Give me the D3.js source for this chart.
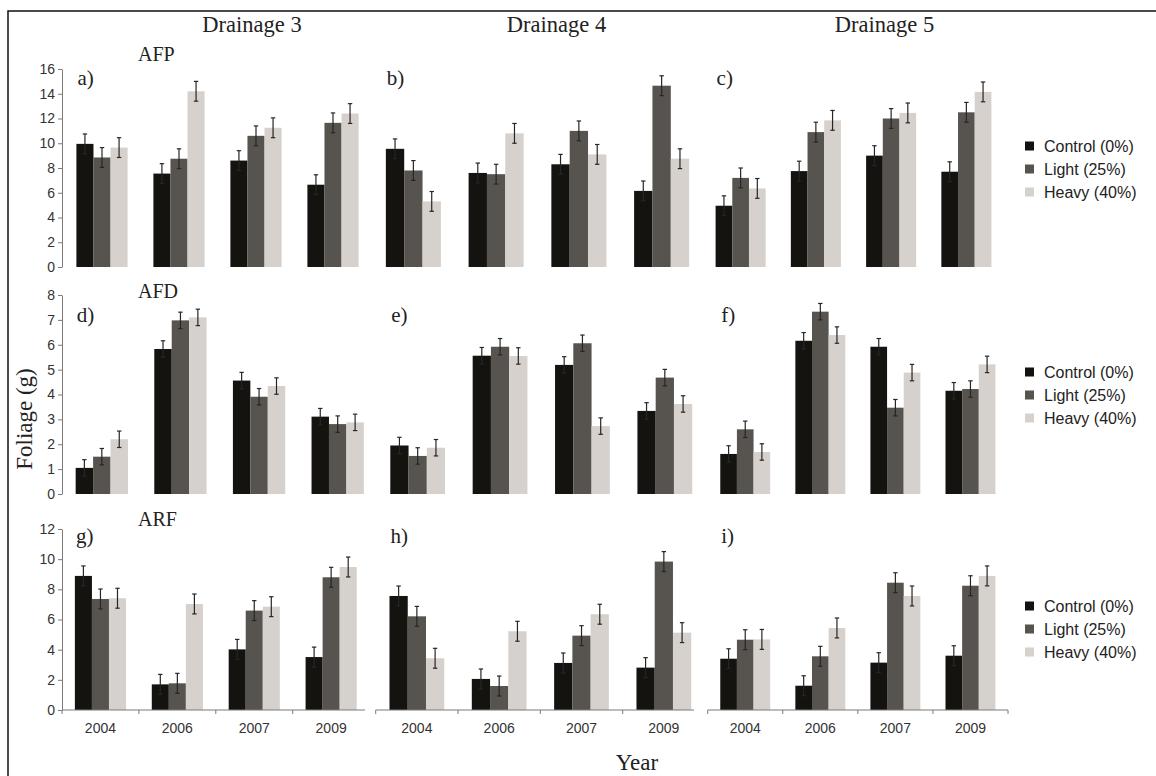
<!DOCTYPE html>
<meta charset="utf-8">
<title>Foliage by drainage and thinning</title>
<style>
  body { margin: 0; background: #fff; overflow: hidden; }
  text { fill: #222; }
  .serif { font-family: "Liberation Serif", "Times New Roman", serif; }
  .sans { font-family: "Liberation Sans", Arial, sans-serif; }
</style>
<body>
<script src="https://cdn.jsdelivr.net/npm/d3@7"></script>
<script>
// categories
const years = ["2004", "2006", "2007", "2009"];
const treatments = ["Control (0%)", "Light (25%)", "Heavy (40%)"];
const drainages = ["Drainage 3", "Drainage 4", "Drainage 5"];
const responses = ["AFP", "AFD", "ARF"];
const panelLabels = [["a)", "b)", "c)"], ["d)", "e)", "f)"], ["g)", "h)", "i)"]];
const yMaxes = [16, 8, 12];
const yTickSteps = [2, 1, 2];
const errors = [0.8, 0.33, 0.66];   // error bar half-height per response

// values per year: [control, light, heavy]
const afpD3 = [[9.95, 8.85, 9.65], [7.55, 8.75, 14.2], [8.6, 10.6, 11.25], [6.65, 11.65, 12.4]];
const afpD4 = [[9.55, 7.8, 5.3], [7.6, 7.5, 10.8], [8.3, 11.0, 9.1], [6.15, 14.65, 8.75]];
const afpD5 = [[4.95, 7.2, 6.35], [7.75, 10.9, 11.85], [9.0, 12.0, 12.45], [7.7, 12.5, 14.15]];
const afdD3 = [[1.05, 1.5, 2.2], [5.83, 6.98, 7.1], [4.56, 3.91, 4.34], [3.11, 2.81, 2.88]];
const afdD4 = [[1.95, 1.53, 1.86], [5.56, 5.92, 5.55], [5.19, 6.06, 2.73], [3.34, 4.68, 3.62]];
const afdD5 = [[1.61, 2.6, 1.69], [6.16, 7.33, 6.39], [5.92, 3.47, 4.88], [4.15, 4.22, 5.21]];
const arfD3 = [[8.89, 7.36, 7.41], [1.7, 1.77, 7.03], [4.02, 6.59, 6.85], [3.51, 8.8, 9.48]];
const arfD4 = [[7.56, 6.21, 3.43], [2.06, 1.59, 5.22], [3.12, 4.93, 6.35], [2.81, 9.84, 5.13]];
const arfD5 = [[3.4, 4.66, 4.68], [1.61, 3.56, 5.44], [3.14, 8.44, 7.56], [3.6, 8.24, 8.89]];

const grid = [[afpD3, afpD4, afpD5], [afdD3, afdD4, afdD5], [arfD3, arfD4, arfD5]];

const colors = ["#141310", "#57544f", "#d6d1cc"];

// layout
const width = 1156, height = 776;
const rowY = [[267, 69], [494, 295], [710, 529]];
const xRanges = [
  [[63.5, 371.5], [372, 703], [703, 1004]],
  [[62.5, 377], [376.5, 706], [707.7, 1008]],
  [[62, 369.6], [375.7, 705], [707.7, 1008]]
];
const axisEnds = [365, 694, 1008];
const labelBase = [85, 322, 543];
const respBase = [61, 298, 526];
const legendTop = [146, 372, 606];
const pad = 0.335;

const svg = d3.select("body").append("svg")
    .attr("width", width)
    .attr("height", height)
    .style("display", "block");

// frame: only the left and top edges show in the crop
svg.append("path")
    .attr("d", d3.line()([[8, height + 5], [8, 11], [width + 5, 11]]))
    .attr("fill", "none")
    .attr("stroke", "#111")
    .attr("stroke-width", 1.5);

// column titles
drainages.forEach((d, c) => {
    const r = xRanges[0][c];
    svg.append("text").attr("class", "serif")
        .attr("x", c == 0 ? 252 : (r[0] + r[1]) / 2 + (c == 1 ? 19 : 31))
        .attr("y", 32)
        .attr("text-anchor", "middle")
        .style("font-size", "22.5px")
        .text(d);
});

grid.forEach((rowData, r) => {
    const y = d3.scaleLinear().domain([0, yMaxes[r]]).range(rowY[r]);

    // y axis on the first column only
    svg.append("g")
        .attr("transform", "translate(62,0)")
        .call(d3.axisLeft(y)
            .tickValues(d3.range(0, yMaxes[r] + 0.01, yTickSteps[r]))
            .tickSize(4).tickSizeOuter(0))
        .call(g => g.selectAll("path, line").attr("stroke", "#7a7a7a"))
        .call(g => g.selectAll("text")
            .attr("class", "sans")
            .attr("x", -7)
            .style("font-size", "14px")
            .style("fill", "#333"));

    svg.append("text").attr("class", "serif")
        .attr("x", 138).attr("y", respBase[r])
        .style("font-size", "20px")
        .text(responses[r]);

    rowData.forEach((vals, c) => {
        const x = d3.scaleBand().domain(years).range(xRanges[r][c])
            .paddingInner(pad).paddingOuter(pad / 2);
        const xi = d3.scaleBand().domain(d3.range(3)).range([0, x.bandwidth()]);

        const g = svg.append("g");
        const groups = g.selectAll("g.year")
            .data(vals)
            .join("g")
            .attr("transform", (d, i) => `translate(${x(years[i])},0)`);

        groups.selectAll("rect")
            .data(d => d)
            .join("rect")
            .attr("x", (d, k) => xi(k))
            .attr("width", xi.bandwidth())
            .attr("y", d => y(d))
            .attr("height", d => y(0) - y(d))
            .attr("fill", (d, k) => colors[k]);

        const err = errors[r];
        const eb = groups.selectAll("g.err")
            .data(d => d)
            .join("g")
            .attr("transform", (d, k) => `translate(${xi(k) + xi.bandwidth() / 2},0)`)
            .attr("stroke", "#262626")
            .attr("stroke-width", 1.2);
        eb.append("line")
            .attr("y1", d => y(d - err)).attr("y2", d => y(d + err));
        eb.append("line")
            .attr("x1", -2.2).attr("x2", 2.2)
            .attr("y1", d => y(d + err)).attr("y2", d => y(d + err));
        eb.append("line")
            .attr("x1", -2.2).attr("x2", 2.2)
            .attr("y1", d => y(d - err)).attr("y2", d => y(d - err));

        // panel letter
        svg.append("text").attr("class", "serif")
            .attr("x", x(years[0]) + 1)
            .attr("y", labelBase[r])
            .style("font-size", "21px")
            .text(panelLabels[r][c]);

        // x axis on bottom row
        if (r == 2) {
            const base = y(0);
            const half = x.step() * pad / 2;
            const ax = svg.append("g").attr("stroke", "#7a7a7a");
            ax.append("line")
                .attr("x1", xRanges[r][c][0]).attr("x2", axisEnds[c])
                .attr("y1", base).attr("y2", base);
            const tickXs = years.map(yr => x(yr) - half);
            if (c == 2) tickXs.push(xRanges[r][c][1]);
            ax.selectAll("line.tick")
                .data(tickXs)
                .join("line")
                .attr("x1", d => d).attr("x2", d => d)
                .attr("y1", base).attr("y2", base + 4);
            svg.append("g").selectAll("text")
                .data(years)
                .join("text")
                .attr("class", "sans")
                .attr("x", d => x(d) + x.bandwidth() / 2)
                .attr("y", base + 23)
                .attr("text-anchor", "middle")
                .style("font-size", "14px")
                .style("fill", "#333")
                .text(d => d);
        }
    });

    // legend
    const lg = svg.append("g").attr("transform", `translate(1025,${legendTop[r]})`);
    treatments.forEach((t, k) => {
        lg.append("rect")
            .attr("x", 0).attr("y", k * 23 - 4.5)
            .attr("width", 9).attr("height", 9)
            .attr("fill", colors[k]);
        lg.append("text").attr("class", "sans")
            .attr("x", 19).attr("y", k * 23 + 5.5)
            .style("font-size", "16px")
            .style("fill", "#222")
            .text(t);
    });
});

// axis titles
svg.append("text").attr("class", "serif")
    .attr("transform", "translate(32,419) rotate(-90)")
    .attr("text-anchor", "middle")
    .style("font-size", "23px")
    .text("Foliage (g)");

svg.append("text").attr("class", "serif")
    .attr("x", 637).attr("y", 770)
    .attr("text-anchor", "middle")
    .style("font-size", "23px")
    .text("Year");
</script>
</body>
